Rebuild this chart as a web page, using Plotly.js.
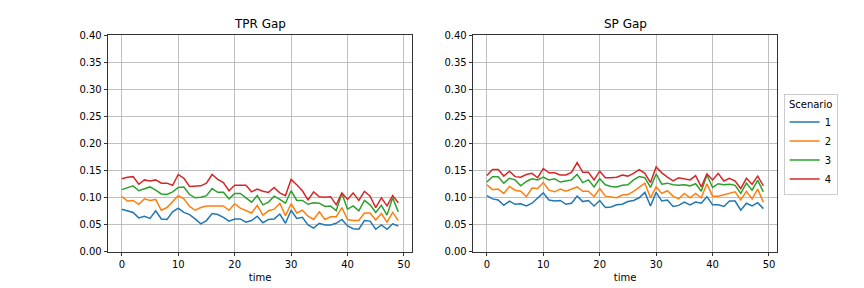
<!DOCTYPE html>
<html>
<head>
<meta charset="utf-8">
<script src="https://cdn.plot.ly/plotly-3.0.1.min.js"></script>
<style>html,body{margin:0;padding:0;background:#fff}#chart{width:864px;height:288px}</style>
</head>
<body>
<div id="chart"></div>
<script>
const time = Array.from({length: 50}, (_, i) => i);
const scenarios = ["1", "2", "3", "4"];
const colors = ["#1f77b4", "#ff7f0e", "#2ca02c", "#d62728"];
const panelTitles = ["TPR Gap", "SP Gap"];

const tpr1 = [0.079,0.076,0.073,0.063,0.066,0.062,0.076,0.061,0.060,0.074,0.081,0.073,0.069,0.061,0.052,0.058,0.071,0.069,0.064,0.057,0.061,0.061,0.055,0.058,0.066,0.054,0.060,0.061,0.070,0.053,0.077,0.062,0.064,0.050,0.044,0.053,0.050,0.050,0.053,0.060,0.048,0.043,0.042,0.058,0.057,0.042,0.050,0.042,0.052,0.048];
const tpr2 = [0.102,0.094,0.095,0.088,0.098,0.095,0.097,0.077,0.082,0.093,0.104,0.098,0.084,0.077,0.082,0.085,0.085,0.085,0.085,0.077,0.089,0.081,0.076,0.072,0.086,0.068,0.076,0.079,0.090,0.067,0.089,0.072,0.077,0.066,0.060,0.074,0.060,0.065,0.065,0.082,0.060,0.058,0.058,0.072,0.072,0.059,0.071,0.055,0.073,0.058];
const tpr3 = [0.115,0.119,0.122,0.113,0.117,0.120,0.114,0.107,0.106,0.111,0.119,0.120,0.106,0.100,0.101,0.104,0.117,0.110,0.110,0.098,0.108,0.108,0.100,0.092,0.104,0.087,0.092,0.103,0.097,0.090,0.113,0.095,0.095,0.088,0.091,0.090,0.084,0.085,0.076,0.108,0.079,0.085,0.076,0.095,0.087,0.073,0.086,0.068,0.100,0.074];
const tpr4 = [0.135,0.138,0.139,0.125,0.133,0.131,0.133,0.127,0.127,0.123,0.143,0.136,0.121,0.122,0.122,0.127,0.143,0.134,0.128,0.113,0.123,0.123,0.123,0.111,0.116,0.112,0.110,0.119,0.109,0.104,0.134,0.124,0.113,0.096,0.111,0.102,0.101,0.102,0.087,0.109,0.097,0.109,0.095,0.112,0.103,0.082,0.100,0.085,0.104,0.091];

const sp1 = [0.104,0.098,0.096,0.086,0.094,0.088,0.089,0.085,0.090,0.099,0.109,0.096,0.094,0.095,0.088,0.090,0.103,0.093,0.095,0.085,0.095,0.082,0.083,0.087,0.088,0.093,0.095,0.100,0.110,0.085,0.110,0.094,0.096,0.084,0.086,0.092,0.087,0.092,0.090,0.102,0.087,0.087,0.084,0.094,0.094,0.077,0.090,0.085,0.091,0.080];
const sp2 = [0.124,0.115,0.116,0.108,0.121,0.114,0.112,0.102,0.118,0.117,0.128,0.114,0.111,0.116,0.112,0.116,0.120,0.112,0.112,0.102,0.117,0.103,0.101,0.100,0.105,0.106,0.112,0.119,0.127,0.100,0.120,0.108,0.113,0.103,0.098,0.108,0.100,0.108,0.100,0.126,0.103,0.103,0.106,0.109,0.111,0.096,0.112,0.098,0.116,0.092];
const sp3 = [0.129,0.139,0.139,0.127,0.136,0.133,0.122,0.130,0.135,0.133,0.138,0.133,0.135,0.129,0.131,0.133,0.143,0.128,0.133,0.120,0.135,0.124,0.121,0.120,0.123,0.124,0.133,0.139,0.137,0.119,0.144,0.125,0.127,0.124,0.123,0.124,0.122,0.126,0.112,0.142,0.119,0.126,0.124,0.125,0.123,0.108,0.127,0.114,0.132,0.111];
const sp4 = [0.141,0.152,0.152,0.140,0.149,0.139,0.138,0.143,0.145,0.137,0.154,0.146,0.146,0.142,0.142,0.147,0.165,0.147,0.147,0.133,0.149,0.137,0.137,0.138,0.142,0.140,0.145,0.152,0.145,0.128,0.157,0.146,0.138,0.131,0.137,0.135,0.133,0.141,0.120,0.144,0.133,0.145,0.131,0.136,0.131,0.117,0.136,0.125,0.140,0.122];

const tprSeries = [tpr1, tpr2, tpr3, tpr4];
const spSeries = [sp1, sp2, sp3, sp4];
const yTicks = [0.00,0.05,0.10,0.15,0.20,0.25,0.30,0.35,0.40];
const xTicks = [0,10,20,30,40,50];

const traces = [];
tprSeries.forEach((ys, i) => traces.push({x: time, y: ys, type: 'scatter', mode: 'lines', name: scenarios[i], line: {color: colors[i], width: 1.5}, xaxis: 'x', yaxis: 'y', showlegend: true, legendgroup: scenarios[i]}));
spSeries.forEach((ys, i) => traces.push({x: time, y: ys, type: 'scatter', mode: 'lines', name: scenarios[i], line: {color: colors[i], width: 1.5}, xaxis: 'x2', yaxis: 'y2', showlegend: false, legendgroup: scenarios[i]}));

const font = {family: 'DejaVu Sans', size: 10, color: '#000'};
function xa(domain, anchor) {
  return {domain: domain, anchor: anchor, range: [-2.45, 51.45], tickvals: xTicks, ticktext: xTicks.map(String), ticks: 'outside', ticklen: 3.5, tickwidth: 0.8, tickcolor: '#000', showline: true, mirror: true, linecolor: '#000', linewidth: 0.8, showgrid: true, gridcolor: '#b0b0b0', gridwidth: 0.8, zeroline: false, tickfont: font, title: {text: 'time', font: font, standoff: 4}};
}
function ya(anchor) {
  return {domain: [0.125, 0.878], anchor: anchor, range: [0, 0.4], tickvals: yTicks, ticktext: yTicks.map(v => v.toFixed(2)), ticks: 'outside', ticklen: 3.5, tickwidth: 0.8, tickcolor: '#000', showline: true, mirror: true, linecolor: '#000', linewidth: 0.8, showgrid: true, gridcolor: '#b0b0b0', gridwidth: 0.8, zeroline: false, tickfont: font};
}

const layout = {
  width: 864, height: 288,
  margin: {l: 0, r: 0, t: 0, b: 0},
  paper_bgcolor: '#fff', plot_bgcolor: '#fff',
  font: font,
  xaxis: xa([0.125, 0.477], 'y'),
  yaxis: ya('x'),
  xaxis2: xa([0.5475, 0.8995], 'y2'),
  yaxis2: ya('x2'),
  legend: {x: 0.907, y: 0.5, xanchor: 'left', yanchor: 'middle', bordercolor: '#cccccc', borderwidth: 1, bgcolor: '#fff', font: {family: 'DejaVu Sans', size: 10, color: '#000'}, title: {text: 'Scenario', font: {family: 'DejaVu Sans', size: 10, color: '#000'}, side: 'top center'}, tracegroupgap: 0, itemwidth: 30},
  annotations: panelTitles.map((t, i) => ({text: t, x: i === 0 ? 0.301 : 0.7235, y: 0.885, xref: 'paper', yref: 'paper', xanchor: 'center', yanchor: 'bottom', showarrow: false, font: {family: 'DejaVu Sans', size: 12, color: '#000'}}))
};

Plotly.newPlot('chart', traces, layout, {displayModeBar: false, staticPlot: true});
</script>
</body>
</html>
